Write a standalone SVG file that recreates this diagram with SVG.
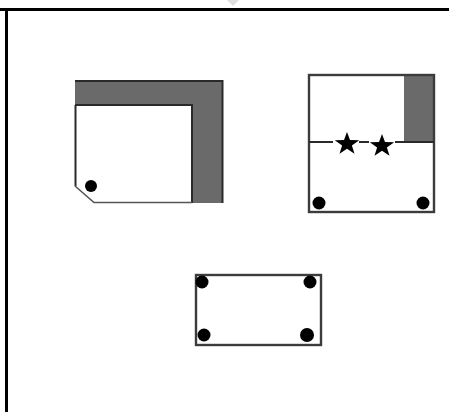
<svg xmlns="http://www.w3.org/2000/svg" width="449" height="412" viewBox="0 0 449 412">
<style>
.frame{fill:#000}
.wall{fill:#6a6a6a}
.edge{fill:none;stroke:#2a2a2a;stroke-width:2}
.soft{fill:none;stroke:#3c3c3c;stroke-width:2.4}
.dot,.star{fill:#000}
</style>
<defs>
<polygon id="star" points="0,-12 3,-3.9 12.2,-3.8 4.9,1.5 7.5,9.8 0,4.8 -7.5,9.8 -4.9,1.5 -12.2,-3.8 -3,-3.9"/>
</defs>
<rect width="449" height="412" fill="#fff"/>
<g id="frame">
<polygon points="227,0 239,0 233,6" fill="#dedede"/>
<rect class="frame" x="0" y="8" width="449" height="3"/>
<rect class="frame" x="5" y="8" width="3" height="404"/>
</g>
<g id="plan-left">
<polygon class="wall" points="75,81 223,81 223,203 192,203 192,105 75,105"/>
<path d="M75,81H222.500V203" class="edge"/>
<path d="M75,105H192V203" class="edge"/>
<path d="M75.500,105V186" class="edge"/>
<path d="M75,186L94,202.500H192" fill="none" stroke="#555" stroke-width="1.6"/>
<circle class="dot" cx="91" cy="186" r="6"/>
</g>
<g id="plan-right">
<rect class="wall" x="404" y="75" width="30" height="67"/>
<rect class="soft" x="309" y="75" width="125" height="137"/>
<path d="M309,142H333M359,142H369M395,142H434" class="edge"/>
<use href="#star" class="star" x="347" y="144"/>
<use href="#star" class="star" x="382" y="146"/>
<circle class="dot" cx="319" cy="203" r="6.500"/>
<circle class="dot" cx="423" cy="203" r="6.500"/>
</g>
<g id="plan-bottom">
<rect class="soft" x="196" y="275" width="125" height="70"/>
<circle class="dot" cx="202" cy="282" r="6.500"/>
<circle class="dot" cx="310" cy="282" r="6.500"/>
<circle class="dot" cx="204" cy="335" r="6.500"/>
<circle class="dot" cx="307" cy="335" r="7"/>
</g>
</svg>
